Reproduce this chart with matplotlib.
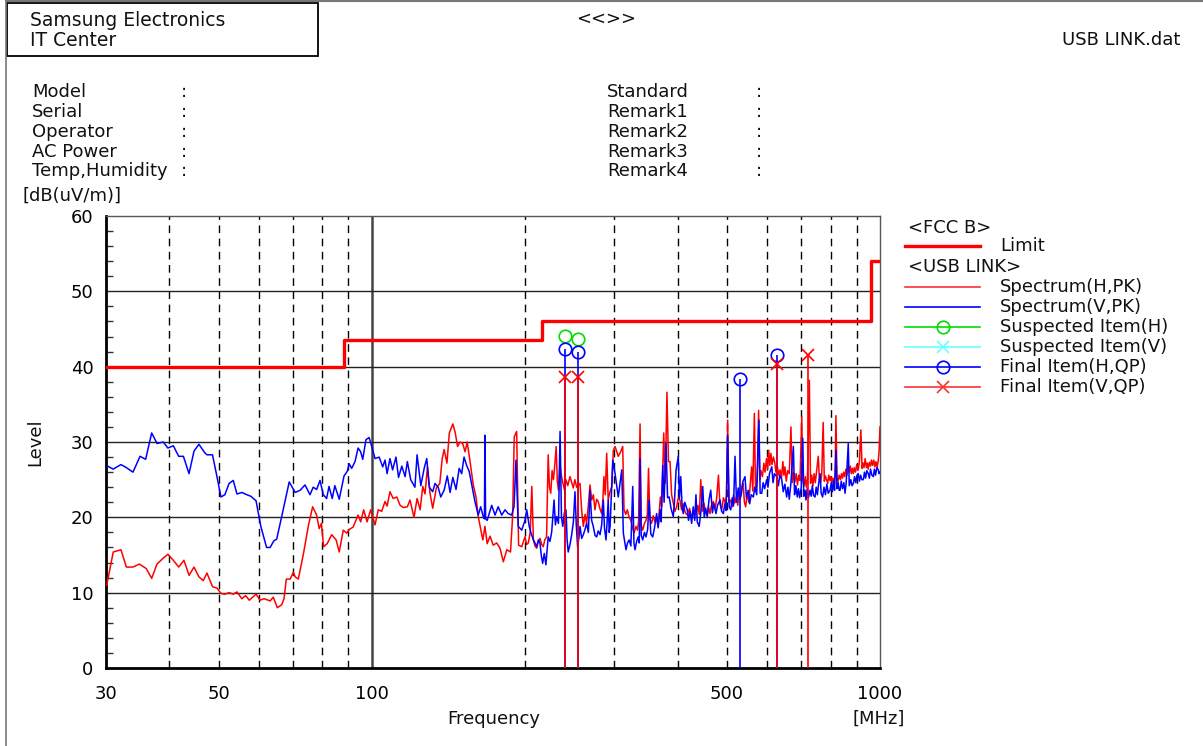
import matplotlib
matplotlib.use("Agg")
import matplotlib.pyplot as plt
from matplotlib.lines import Line2D
from matplotlib.patches import Rectangle
from matplotlib.ticker import FixedLocator, NullLocator

plt.rcParams['font.family'] = ['DejaVu Sans']

# ---------------- data ----------------
limit_freq = [30, 88, 88, 216, 216, 960, 960, 1000]
limit_level = [40, 40, 43.5, 43.5, 46, 46, 54, 54]

# Spectrum(H,PK)  (MHz, dBuV/m)
h_low = [(30.1, 11.0), (31.0, 15.4), (32.1, 15.7), (32.9, 13.4), (33.9, 13.4), (34.9, 13.8),
         (36.0, 13.2), (36.9, 11.9), (37.8, 13.8), (38.9, 14.6), (39.7, 15.1), (40.7, 14.3),
         (41.7, 13.4), (42.7, 14.3), (43.7, 12.3), (44.7, 13.4), (45.7, 12.1), (46.6, 11.6),
         (47.4, 12.6), (48.6, 10.8), (49.6, 10.6), (50.5, 9.9), (51.4, 9.8), (52.4, 10.0),
         (53.4, 9.8), (54.3, 10.1), (55.5, 9.2), (56.5, 9.6), (57.4, 9.0), (59.2, 9.8),
         (60.3, 9.0), (61.4, 9.2), (63.1, 8.9), (64.0, 9.4), (65.2, 8.0), (66.5, 8.4),
         (67.2, 9.2), (67.9, 11.8), (69.1, 11.8), (70.1, 12.7), (70.7, 12.1), (71.7, 11.8),
         (73.4, 15.2), (75.0, 18.8), (76.5, 21.4), (77.9, 20.3), (78.8, 18.5), (79.6, 19.2),
         (80.4, 16.1), (81.7, 16.5), (83.4, 17.7), (85.1, 17.0), (86.3, 15.4), (87.9, 18.3),
         (89.3, 17.9), (90.3, 18.4), (91.9, 18.7), (94.0, 20.3), (95.1, 19.4), (96.4, 21.0),
         (97.9, 19.4), (99.5, 21.0), (101.5, 19.0), (103.0, 21.0), (104.6, 20.8), (106.2, 22.1),
         (107.2, 21.5), (108.6, 23.4), (110.2, 22.5), (112.0, 22.7), (113.7, 21.6), (115.4, 21.3),
         (117.5, 21.4), (118.9, 22.3), (121.1, 20.0), (122.8, 22.5), (124.5, 21.0), (126.0, 24.1),
         (127.3, 23.1), (128.7, 26.7), (130.2, 23.2), (131.8, 21.2), (134.0, 23.9), (136.1, 24.5),
         (137.6, 27.8), (138.8, 29.0), (140.6, 27.2), (142.1, 31.2), (144.4, 32.4), (146.0, 31.2),
         (147.5, 29.4), (149.2, 30.0), (151.0, 29.8), (152.6, 28.7), (154.1, 30.0), (156.1, 27.4),
         (158.4, 24.3), (160.4, 22.7), (162.0, 20.1), (165.4, 17.0), (167.0, 18.8), (168.7, 16.5),
         (170.9, 17.5), (173.4, 16.3), (176.1, 16.6), (178.8, 15.9), (181.5, 14.1), (184.4, 15.7),
         (187.5, 15.4), (189.3, 20.1), (190.7, 30.7), (192.8, 31.4), (194.5, 16.3), (197.3, 16.1)]
h_mid = [(200.2, 17.4), (201.8, 16.4), (203.3, 16.6), (205.0, 18.0), (206.5, 24.1), (208.0, 17.0),
         (209.5, 16.2), (211.1, 15.9), (212.7, 16.8), (214.3, 17.2), (216.0, 16.4), (217.5, 16.1),
         (219.0, 17.0), (220.8, 17.4), (222.4, 28.3), (223.7, 24.0), (225.0, 23.2), (226.4, 26.2),
         (227.8, 25.0), (229.2, 27.0), (230.6, 29.4), (231.8, 24.8), (233.0, 23.6), (234.6, 27.0),
         (236.3, 25.4), (238.0, 24.4), (239.5, 23.6), (241.0, 25.0), (243.0, 24.2), (245.5, 25.4),
         (247.5, 24.6), (249.2, 23.9), (251.0, 25.0), (253.0, 24.0), (256.9, 24.5), (258.8, 21.0),
         (260.8, 18.8), (262.8, 20.4), (264.7, 19.2), (266.8, 21.6), (268.8, 24.3), (270.9, 22.3),
         (272.9, 23.0), (274.9, 21.0), (277.0, 22.4), (279.0, 22.1), (281.0, 21.2), (283.3, 20.5),
         (284.8, 22.0), (286.3, 25.4), (288.0, 23.0), (289.9, 28.5), (291.9, 22.3), (294.2, 23.4),
         (296.8, 24.1), (298.7, 28.9), (301.1, 29.4), (305.5, 28.1), (308.8, 28.7), (311.7, 29.4),
         (313.6, 21.0), (316.0, 20.4), (318.3, 21.0), (321.0, 20.0), (323.3, 19.6), (326.0, 18.6),
         (328.1, 17.9), (331.0, 18.8), (333.2, 18.3), (335.0, 19.4), (337.2, 32.4), (339.0, 19.0),
         (341.3, 18.3), (344.0, 19.2), (346.4, 19.6), (348.5, 20.4), (350.4, 26.5), (352.5, 19.8),
         (355.2, 19.2), (358.0, 20.2), (360.5, 19.4), (363.0, 20.0), (365.8, 18.8), (368.0, 21.0),
         (369.8, 22.7), (372.0, 21.4), (375.4, 31.2), (378.0, 24.5), (380.9, 36.6), (383.5, 27.4),
         (386.3, 27.4), (389.0, 23.0)]
h_high = [(392.0, 21.9), (395.0, 20.8), (398.0, 21.4), (401.0, 22.6), (404.0, 22.3), (407.0, 21.0),
          (410.0, 21.8), (414.0, 20.6), (418.0, 20.3), (422.0, 21.2), (426.0, 19.9), (430.0, 20.8),
          (434.0, 20.3), (438.0, 21.6), (441.0, 20.4), (444.0, 25.0), (447.0, 20.8), (450.0, 21.9),
          (453.0, 21.0), (457.0, 20.2), (460.0, 21.4), (463.0, 20.5), (466.0, 21.6), (470.0, 22.1),
          (474.0, 21.2), (477.0, 22.5), (481.0, 25.6), (484.0, 21.8), (488.0, 21.0), (492.0, 22.6),
          (496.0, 21.9), (499.0, 22.8), (501.5, 32.9), (504.0, 22.0), (508.0, 22.3), (512.0, 21.4),
          (515.0, 23.0), (518.0, 21.9), (522.0, 22.8), (525.0, 21.6), (528.0, 23.2), (531.0, 22.4),
          (534.0, 24.0), (538.0, 24.5), (541.0, 22.0), (544.0, 21.4), (548.0, 23.1), (552.0, 22.0),
          (556.0, 24.6), (559.0, 26.7), (562.0, 23.5), (566.0, 33.8), (569.0, 23.6), (573.0, 24.8),
          (577.0, 34.2), (580.0, 25.0), (583.0, 26.2), (587.0, 25.4), (591.0, 27.2), (594.0, 26.0),
          (598.0, 27.8), (601.0, 26.4), (604.0, 28.9), (607.0, 26.9), (610.0, 28.5), (613.0, 27.0),
          (617.0, 28.0), (621.0, 27.2), (624.0, 26.0), (628.0, 26.8), (632.0, 25.6), (636.0, 26.3),
          (640.0, 25.2), (644.0, 27.4), (647.0, 25.6), (650.0, 26.7), (654.0, 24.8), (658.0, 26.2),
          (663.0, 25.8), (668.0, 32.0), (672.0, 24.6), (676.0, 25.9), (680.0, 24.7), (684.0, 25.8),
          (688.0, 24.3), (692.0, 25.6), (696.0, 24.9), (701.6, 33.4), (705.0, 25.0), (709.0, 24.2),
          (713.0, 25.4), (716.0, 24.0), (720.0, 25.1), (726.0, 38.2), (730.0, 24.5), (734.0, 25.6),
          (738.0, 24.2), (742.0, 25.8), (746.0, 24.6), (750.0, 26.0), (756.0, 28.1), (760.0, 25.0),
          (764.0, 24.6), (768.0, 25.7), (773.0, 32.6), (777.0, 24.8), (781.0, 25.5), (785.0, 25.0),
          (789.0, 24.5), (793.0, 25.6), (797.0, 24.9), (800.0, 25.4), (804.0, 24.6), (808.0, 25.2),
          (812.0, 24.8), (816.0, 25.6), (819.0, 33.5), (823.0, 25.0), (827.0, 24.8), (831.0, 25.6),
          (836.0, 25.0), (840.0, 25.8), (844.0, 25.2), (848.0, 26.0), (852.0, 25.4), (857.0, 26.4),
          (861.0, 25.6), (866.0, 27.0), (870.0, 26.0), (874.0, 26.8), (878.0, 25.8), (882.0, 26.5),
          (886.0, 25.8), (890.0, 26.6), (895.0, 26.0), (900.0, 27.0), (906.0, 26.3), (911.0, 27.4),
          (917.0, 31.6), (922.0, 26.5), (926.0, 27.2), (930.0, 26.6), (935.0, 27.8), (940.0, 26.6),
          (944.0, 27.2), (948.0, 26.4), (953.0, 27.3), (958.0, 26.8), (962.0, 27.6), (967.0, 26.9),
          (972.0, 27.6), (977.0, 26.7), (982.0, 27.4), (987.0, 26.6), (992.0, 27.5), (996.0, 28.9),
          (1000.0, 32.0)]

# Spectrum(V,PK)  (MHz, dBuV/m)
v_low = [(30.2, 26.8), (31.0, 26.4), (32.1, 27.0), (32.9, 26.6), (33.9, 26.0), (35.0, 28.1),
         (35.9, 27.7), (36.9, 31.2), (37.8, 29.8), (38.9, 30.0), (39.7, 29.2), (40.7, 29.5),
         (41.7, 28.1), (42.6, 28.1), (43.7, 25.8), (44.7, 28.8), (45.7, 29.7), (46.9, 28.6),
         (47.4, 28.3), (48.6, 28.3), (49.6, 25.4), (50.5, 22.7), (51.4, 23.0), (52.4, 24.5),
         (53.4, 24.9), (54.3, 23.1), (55.5, 23.3), (56.8, 23.0), (57.8, 22.8), (59.2, 22.2),
         (60.5, 18.8), (62.1, 16.0), (63.1, 16.0), (64.2, 16.9), (65.0, 17.1), (66.5, 20.1),
         (68.8, 24.7), (70.7, 23.3), (72.3, 23.6), (73.9, 24.3), (75.6, 23.0), (76.7, 24.0),
         (77.9, 23.7), (79.1, 24.9), (80.3, 23.0), (81.5, 22.5), (82.4, 24.1), (83.6, 22.5),
         (84.6, 24.2), (86.3, 22.4), (88.2, 25.5), (89.5, 26.1), (90.3, 27.1), (91.3, 26.5),
         (92.7, 27.4), (94.0, 29.2), (95.1, 28.7), (96.0, 27.7), (97.4, 30.3), (98.8, 30.6),
         (100.0, 29.4), (101.5, 27.8), (103.4, 28.0), (105.1, 26.7), (106.2, 27.6), (107.2, 25.8),
         (108.6, 27.8), (109.9, 26.3), (111.6, 28.0), (112.9, 25.3), (114.6, 26.8), (116.3, 25.4),
         (117.5, 27.4), (119.3, 25.0), (121.6, 24.0), (122.8, 28.3), (124.9, 24.2), (126.8, 26.5),
         (128.3, 27.8), (129.8, 24.0), (131.8, 23.4), (133.2, 24.5), (135.1, 24.0), (136.7, 22.7),
         (138.8, 23.6), (140.8, 25.5), (142.6, 23.3), (144.4, 25.3), (146.5, 23.7), (148.6, 26.5),
         (150.3, 25.8), (151.9, 28.0), (153.7, 26.9), (155.5, 26.1), (157.3, 24.3), (159.6, 22.1),
         (162.0, 20.3), (163.8, 21.4), (165.7, 20.1), (166.6, 19.8), (167.0, 30.9), (167.5, 19.8),
         (168.7, 19.6), (172.2, 21.6), (174.8, 20.3), (177.3, 21.4), (180.2, 20.3), (182.9, 21.0),
         (185.5, 20.5), (188.5, 20.3), (190.5, 21.4), (192.2, 27.6), (194.2, 18.8), (197.3, 18.3)]
v_mid = [(200.2, 19.6), (201.8, 21.0), (204.1, 18.8), (206.0, 17.8), (208.0, 17.0), (209.5, 16.6),
         (211.1, 16.1), (212.7, 17.0), (214.3, 16.6), (215.5, 15.0), (216.9, 13.9), (218.5, 15.2),
         (220.1, 13.7), (222.4, 17.4), (224.2, 16.8), (226.0, 18.1), (228.4, 22.3), (229.8, 19.0),
         (231.1, 20.1), (233.0, 19.2), (234.7, 31.4), (236.2, 20.0), (237.6, 18.8), (239.3, 20.6),
         (241.1, 21.0), (242.3, 17.0), (243.5, 15.4), (245.5, 16.4), (247.4, 17.7), (249.3, 19.4),
         (251.1, 23.4), (252.6, 19.0), (254.1, 16.1), (255.5, 17.2), (256.9, 18.8), (258.8, 17.2),
         (260.8, 17.7), (262.8, 18.4), (264.7, 19.2), (266.8, 18.0), (268.8, 23.6), (270.8, 19.6),
         (272.8, 18.8), (275.0, 17.6), (277.0, 17.4), (279.0, 18.2), (281.3, 17.7), (283.4, 19.0),
         (285.5, 22.3), (287.0, 18.6), (289.0, 17.0), (290.5, 19.5), (291.9, 22.3), (293.2, 18.0),
         (294.4, 18.8), (298.0, 27.6), (301.1, 25.8), (305.5, 22.7), (310.4, 26.3), (312.6, 17.9),
         (314.5, 16.8), (316.4, 15.7), (318.6, 16.6), (321.0, 17.0), (323.5, 16.2), (326.2, 24.1),
         (328.0, 16.6), (329.6, 15.7), (332.0, 16.8), (334.4, 17.4), (336.0, 16.6), (337.2, 27.8),
         (339.0, 17.6), (341.3, 17.0), (344.0, 18.0), (346.4, 17.4), (349.0, 18.4), (351.4, 22.3),
         (354.0, 17.8), (357.1, 17.4), (360.0, 18.6), (363.5, 20.5), (366.0, 18.6), (369.2, 21.0),
         (371.0, 19.4), (373.7, 26.9), (376.0, 22.0), (379.2, 29.8), (382.0, 22.6), (384.8, 22.7),
         (388.0, 21.2)]
v_high = [(392.0, 20.1), (394.0, 22.0), (397.0, 26.3), (401.0, 28.1), (403.0, 22.5), (405.5, 25.4),
          (408.0, 21.4), (410.0, 20.5), (413.0, 22.0), (417.6, 21.0), (420.0, 19.6), (423.0, 20.8),
          (426.0, 19.2), (429.0, 21.4), (432.0, 19.6), (434.4, 23.0), (437.0, 19.4), (440.7, 18.8),
          (444.0, 20.6), (447.9, 24.1), (451.0, 20.0), (454.0, 21.2), (457.2, 20.1), (461.0, 22.4),
          (464.5, 23.6), (468.0, 20.6), (471.0, 21.8), (475.6, 20.5), (479.0, 21.6), (484.5, 22.3),
          (488.0, 20.8), (491.8, 20.5), (495.0, 21.8), (498.0, 20.9), (501.5, 30.9), (505.0, 21.4),
          (508.6, 21.0), (512.0, 22.6), (515.0, 21.5), (518.5, 28.1), (522.0, 22.0), (526.1, 23.9),
          (530.0, 22.4), (534.0, 23.2), (537.0, 24.7), (542.5, 25.4), (546.0, 22.6), (550.5, 23.6),
          (554.0, 21.8), (558.0, 23.0), (563.4, 22.7), (567.0, 24.0), (572.0, 23.0), (577.8, 32.9),
          (581.0, 23.2), (585.3, 23.2), (589.0, 24.6), (593.0, 23.8), (598.5, 25.0), (602.0, 24.0),
          (606.0, 25.8), (612.4, 26.7), (616.0, 24.6), (620.0, 25.8), (626.2, 25.4), (631.0, 24.2),
          (635.0, 25.6), (640.8, 25.0), (645.0, 23.4), (650.0, 24.4), (655.2, 22.7), (659.0, 24.0),
          (663.0, 22.4), (668.0, 24.6), (675.4, 29.4), (679.0, 23.0), (683.0, 24.2), (687.4, 22.7),
          (691.0, 23.8), (695.0, 22.6), (700.0, 24.0), (704.7, 30.5), (708.0, 22.8), (712.0, 23.6),
          (715.1, 22.3), (719.0, 23.8), (723.0, 22.6), (728.5, 23.6), (732.0, 22.8), (736.0, 24.2),
          (740.0, 22.9), (745.0, 22.7), (749.0, 24.0), (753.0, 23.0), (757.0, 24.4), (762.2, 25.8),
          (766.0, 23.2), (771.0, 22.7), (776.0, 24.0), (781.0, 23.0), (786.0, 24.4), (791.0, 23.2),
          (797.6, 23.6), (802.0, 24.6), (806.0, 23.4), (810.0, 24.8), (814.0, 23.6), (819.3, 28.9),
          (823.0, 23.8), (827.0, 24.6), (831.0, 23.6), (834.6, 23.6), (839.0, 24.8), (844.0, 23.8),
          (849.0, 24.6), (853.5, 23.2), (858.0, 24.6), (866.1, 29.8), (870.0, 24.2), (876.0, 25.0),
          (881.0, 24.2), (886.3, 24.5), (891.0, 25.4), (896.0, 24.6), (901.0, 25.6), (906.1, 25.8),
          (911.0, 24.8), (916.0, 25.6), (921.0, 25.0), (927.4, 25.0), (932.0, 26.0), (937.0, 25.2),
          (942.0, 26.2), (948.2, 25.8), (953.0, 25.2), (958.0, 26.4), (964.0, 25.6), (970.4, 25.4),
          (975.0, 26.4), (980.0, 25.6), (986.0, 26.6), (992.1, 26.3), (996.0, 25.8), (1000.0, 26.0)]

susp_h_freq = [240.0, 254.0]
susp_h_level = [44.1, 43.7]
final_h_freq = [240.0, 254.0, 530.0, 626.0]
final_h_level = [42.4, 41.9, 38.3, 41.5]
final_v_freq = [240.0, 254.0, 626.0, 723.0]
final_v_level = [38.6, 38.6, 40.4, 41.5]

x_tick_vals = [30, 50, 100, 500, 1000]
x_tick_labels = ["30", "50", "100", "500", "1000"]
y_tick_vals = [0, 10, 20, 30, 40, 50, 60]
dashed_grid = [40, 50, 60, 70, 80, 90, 200, 300, 400, 500, 600, 700, 800, 900]

legend_labels = ["Spectrum(H,PK)", "Spectrum(V,PK)", "Suspected Item(H)",
                 "Suspected Item(V)", "Final Item(H,QP)", "Final Item(V,QP)"]

h_pts = h_low + h_mid + h_high
v_pts = v_low + v_mid + v_high
h_freq = [p[0] for p in h_pts]
h_level = [p[1] for p in h_pts]
v_freq = [p[0] for p in v_pts]
v_level = [p[1] for p in v_pts]

# ---------------- figure ----------------
W, H = 1203, 746
fig = plt.figure(figsize=(W / 100, H / 100), dpi=100)

def fx(x):
    return x / W

def fy(y):
    return 1 - y / H

FS = 13
ax = fig.add_axes([fx(106), fy(668), fx(880) - fx(106), fy(216) - fy(668)])
ax.set_xscale('log')
ax.set_xlim(30, 1000)
ax.set_ylim(0, 60)

# grid
for g in dashed_grid:
    ax.axvline(g, color='black', lw=1.0, ls=(0, (5.5, 4.0)), zorder=1)
ax.axvline(100, color='#444444', lw=1.8, zorder=1)
for yv in [10, 20, 30, 40, 50]:
    ax.axhline(yv, color='#222222', lw=1.0, zorder=1)

# limit
ax.plot(limit_freq, limit_level, color='#ff0000', lw=2.4, zorder=3)

# spectra
ax.plot(h_freq, h_level, color='#ff0000', lw=1.1, zorder=4)
ax.plot(v_freq, v_level, color='#0000ff', lw=1.1, zorder=5)

# stems
ax.vlines(final_h_freq, 0, final_h_level, color='#0000ff', lw=1.2, zorder=6)
ax.vlines(final_v_freq, 0, final_v_level, color='#ff0000', lw=1.2, zorder=6)

# markers
ax.plot(susp_h_freq, susp_h_level, ls='none', marker='o', ms=9, mfc='none',
        mec='#00dd00', mew=1.2, zorder=7)
ax.plot(final_h_freq, final_h_level, ls='none', marker='o', ms=9, mfc='none',
        mec='#0000ff', mew=1.2, zorder=7)
ax.plot(final_v_freq, final_v_level, ls='none', marker='x', ms=9,
        mec='#ff0000', mew=1.2, zorder=7)

# ticks
ax.xaxis.set_major_locator(FixedLocator(x_tick_vals))
ax.xaxis.set_minor_locator(NullLocator())
ax.set_xticklabels(x_tick_labels)
ax.yaxis.set_major_locator(FixedLocator(y_tick_vals))
ax.yaxis.set_minor_locator(FixedLocator(list(range(0, 61, 2))))
ax.tick_params(axis='x', length=0, pad=12, labelsize=FS)
ax.tick_params(axis='y', which='major', direction='in', length=0, pad=9, labelsize=FS)
ax.tick_params(axis='y', which='minor', direction='in', length=5, width=1, color='#333333')

for s in ['left', 'bottom']:
    ax.spines[s].set_linewidth(2.0)
    ax.spines[s].set_color('black')
for s in ['top', 'right']:
    ax.spines[s].set_linewidth(1.0)
    ax.spines[s].set_color('#555555')

# ---------------- frame / header ----------------
fig.add_artist(Line2D([fx(6), fx(6)], [fy(0), fy(746)], color='#777777', lw=1.2))
fig.add_artist(Line2D([fx(6), fx(1203)], [fy(1), fy(1)], color='#777777', lw=1.5))
fig.add_artist(Rectangle((fx(7), fy(56)), fx(318) - fx(7), fy(3) - fy(56),
                         fill=False, ec='black', lw=1.3, transform=fig.transFigure))

def ftext(x, y, s, ha='left', size=FS, **kw):
    fig.text(fx(x), fy(y), s, ha=ha, va='center', fontsize=size, color='#111111', **kw)

ftext(30, 20, "Samsung Electronics", size=13.5)
ftext(30, 40, "IT Center", size=13.5)
ftext(606, 19, "<<>>", ha='center')
ftext(1180, 40, "USB LINK.dat", ha='right')

left_info = ["Model", "Serial", "Operator", "AC Power", "Temp,Humidity"]
right_info = ["Standard", "Remark1", "Remark2", "Remark3", "Remark4"]
info_y = [92, 112, 132, 152, 171]
for lab, yy in zip(left_info, info_y):
    ftext(32, yy, lab)
    ftext(181, yy, ":")
for lab, yy in zip(right_info, info_y):
    ftext(607, yy, lab)
    ftext(756, yy, ":")

ftext(22, 196, "[dB(uV/m)]")
fig.text(fx(35), fy(442), "Level", rotation=90, ha='center', va='center',
         fontsize=FS, color='#111111')
ftext(494, 719, "Frequency", ha='center')
ftext(853, 719, "[MHz]")

# ---------------- legend ----------------
ftext(908, 228, "<FCC B>")
fig.add_artist(Line2D([fx(905), fx(980)], [fy(246), fy(246)], color='#ff0000', lw=2.4))
ftext(1000, 246, "Limit")
ftext(908, 267, "<USB LINK>")

leg_styles = [
    dict(color='#ff3030', marker=None),
    dict(color='#0000ff', marker=None),
    dict(color='#00dd00', marker='o'),
    dict(color='#66ffff', marker='x'),
    dict(color='#0000ff', marker='o'),
    dict(color='#ff3030', marker='x'),
]
leg_y = [287, 307, 327, 347, 367, 387]
for lab, st, yy in zip(legend_labels, leg_styles, leg_y):
    fig.add_artist(Line2D([fx(905), fx(980)], [fy(yy), fy(yy)], color=st['color'], lw=1.2))
    if st['marker'] is not None:
        fig.add_artist(Line2D([fx(943)], [fy(yy)], color=st['color'], marker=st['marker'],
                              ms=9, mfc='none', mec=st['color'], mew=1.2, ls='none'))
    ftext(1000, yy, lab)

fig.savefig("out.png", dpi=100)
